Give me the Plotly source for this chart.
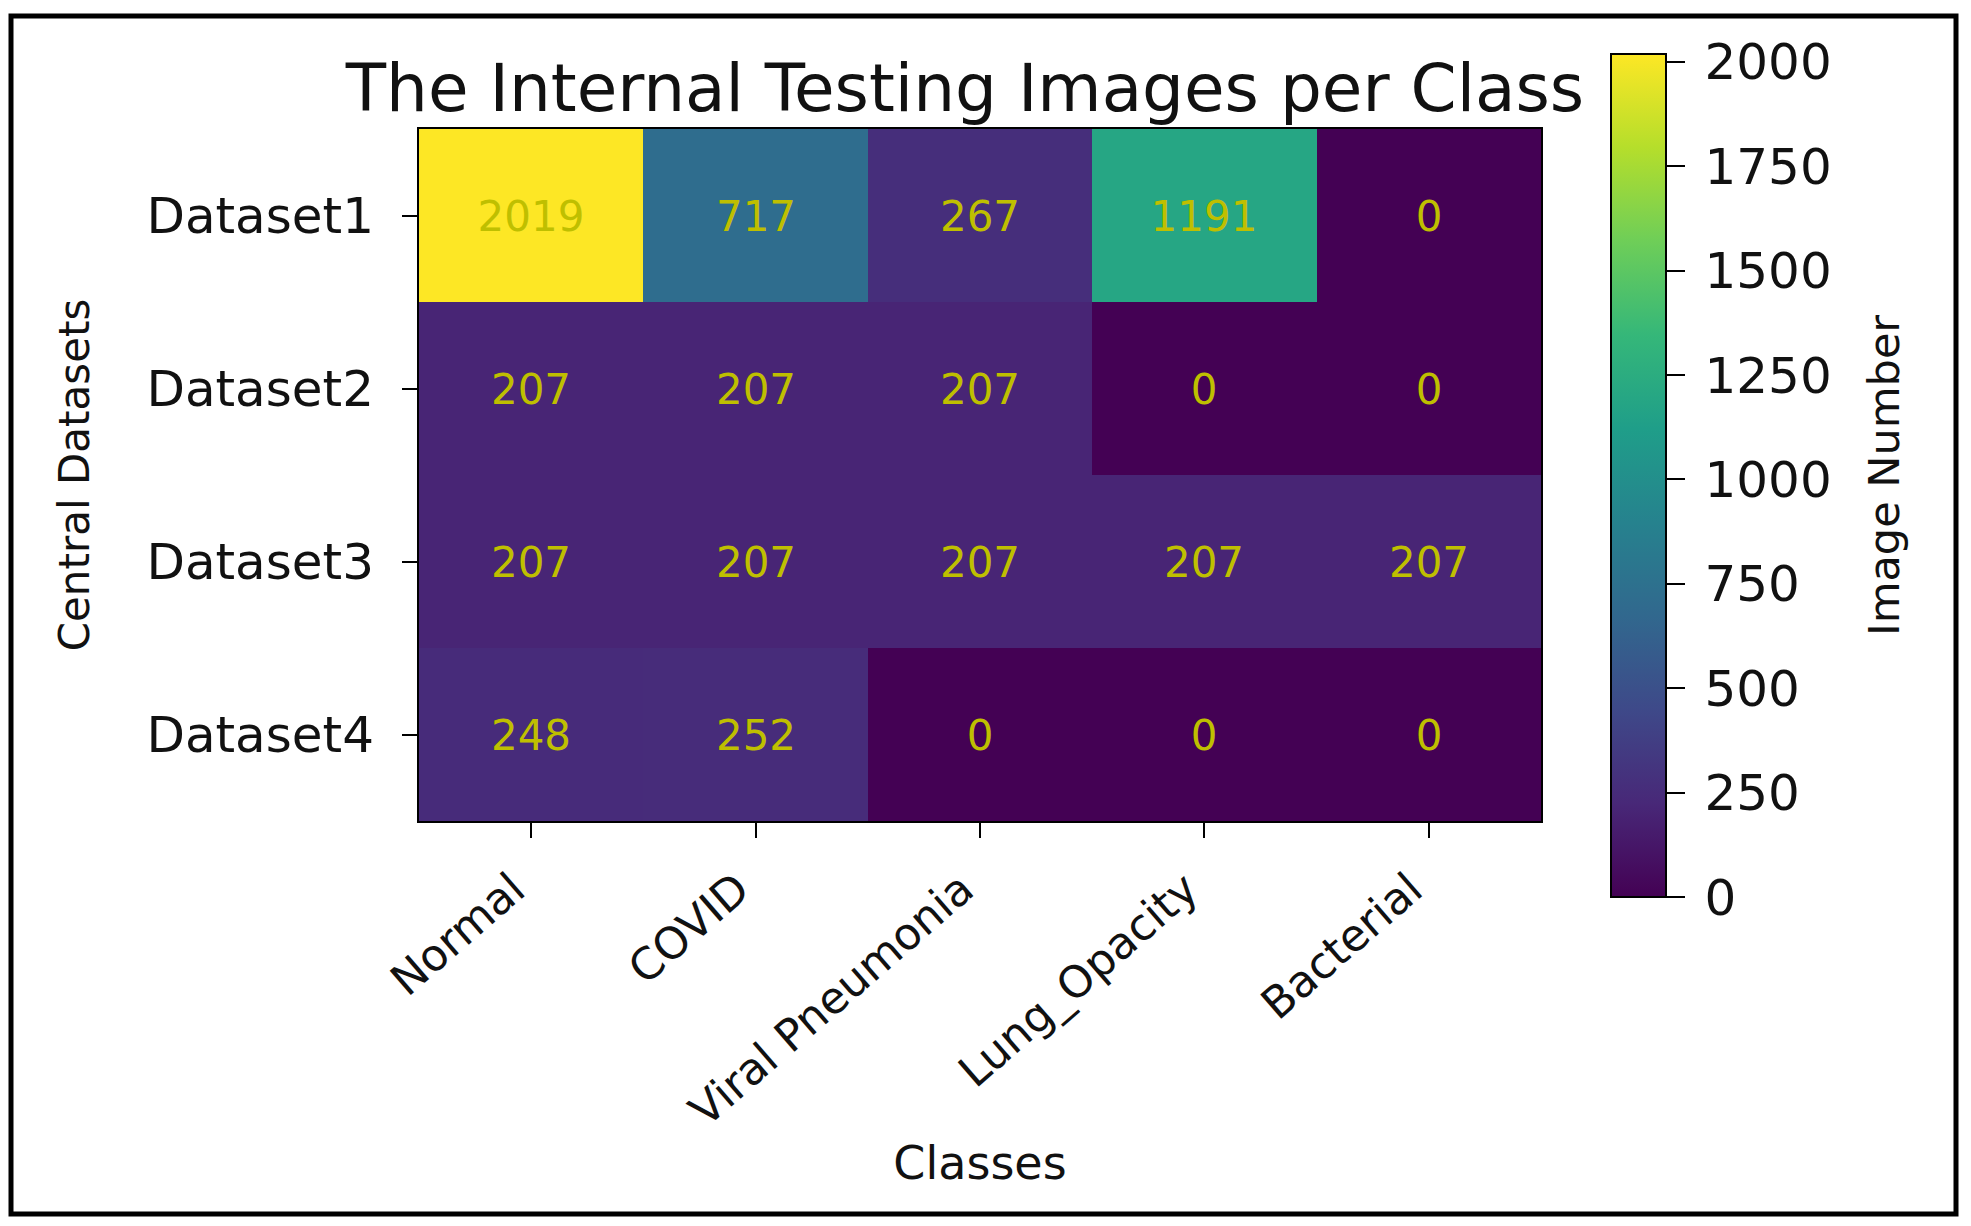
import plotly.graph_objects as go

classes = ["Normal", "COVID", "Viral Pneumonia", "Lung_Opacity", "Bacterial"]
datasets = ["Dataset1", "Dataset2", "Dataset3", "Dataset4"]
dataset1 = [2019, 717, 267, 1191, 0]
dataset2 = [207, 207, 207, 0, 0]
dataset3 = [207, 207, 207, 207, 207]
dataset4 = [248, 252, 0, 0, 0]
colorbar_ticks = [0, 250, 500, 750, 1000, 1250, 1500, 1750, 2000]

z = [dataset1, dataset2, dataset3, dataset4]

FONT = "DejaVu Sans"
W, H = 1955, 1210
L, R, T, B = 411, 1533, 121, 813
pw, ph = R - L, B - T

def px_x(x):
    return (x - L) / pw

def px_y(y):
    return (B - y) / ph

fig = go.Figure(
    go.Heatmap(
        z=z,
        x=classes,
        y=datasets,
        colorscale="Viridis",
        zmin=0,
        zmax=max(max(r) for r in z),
        texttemplate="%{z}",
        textfont=dict(family=FONT, size=42, color="#bfbf00"),
        xgap=0,
        ygap=0,
        colorbar=dict(
            thickness=55,
            thicknessmode="pixels",
            len=843,
            lenmode="pixels",
            x=px_x(1603),
            xanchor="left",
            y=px_y((46 + 889) / 2),
            yanchor="middle",
            ypad=0,
            xpad=0,
            outlinecolor="black",
            outlinewidth=2,
            tickmode="array",
            tickvals=colorbar_ticks,
            ticktext=["\u2009" + str(v) + "\u2002" for v in colorbar_ticks],
            ticks="outside",
            ticklen=18,
            tickwidth=2,
            tickcolor="black",
            tickfont=dict(family=FONT, size=50, color="#111"),
            title=dict(text="Image Number", side="right",
                       font=dict(family=FONT, size=43, color="#111")),
        ),
    )
)

fig.update_xaxes(
    showline=True, mirror=True, linecolor="black", linewidth=2,
    ticks="outside", ticklen=15, tickwidth=2, tickcolor="black",
    tickangle=-41, ticklabelstandoff=8, ticklabelshift=-18,
    tickfont=dict(family=FONT, size=44, color="#111"),
    title=dict(text="Classes", font=dict(family=FONT, size=46, color="#111"), standoff=4),
    showgrid=False, zeroline=False,
)
fig.update_yaxes(
    autorange="reversed",
    showline=True, mirror=True, linecolor="black", linewidth=2,
    ticks="outside", ticklen=15, tickwidth=2, tickcolor="black",
    ticklabelstandoff=18,
    tickfont=dict(family=FONT, size=50, color="#111"),
    title=dict(text="Central Datasets", font=dict(family=FONT, size=42, color="#111"), standoff=44),
    showgrid=False, zeroline=False,
)

fig.update_layout(
    width=W, height=H,
    margin=dict(l=L, r=W - R, t=T, b=H - B, pad=0),
    paper_bgcolor="white",
    plot_bgcolor="white",
    title=dict(
        text="The Internal Testing Images per Class",
        font=dict(family=FONT, size=66, color="#111"),
        x=px_x(957), xref="paper", xanchor="center",
        y=1 - 80 / H, yref="container", yanchor="middle",
    ),
    shapes=[dict(
        type="rect", xref="paper", yref="paper",
        x0=px_x(3), x1=px_x(1948), y0=px_y(1206), y1=px_y(8),
        line=dict(color="black", width=5), fillcolor="rgba(0,0,0,0)",
        layer="above",
    )],
)

fig.write_html("out.html")
